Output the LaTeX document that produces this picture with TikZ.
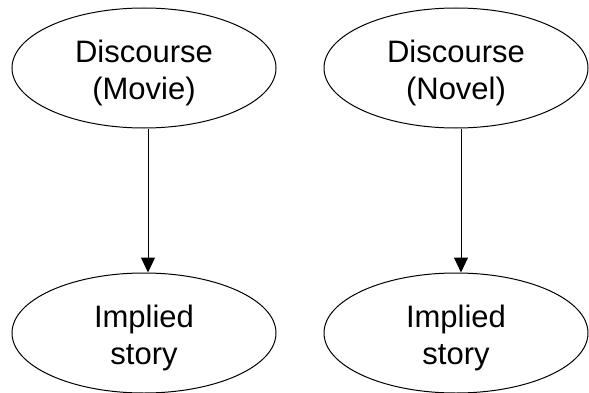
\documentclass[tikz,border=0pt]{standalone}
\usepackage{fontspec}
\setmainfont{Liberation Sans}
\usetikzlibrary{arrows.meta, positioning, shapes.geometric}
\newcommand{\toplift}{\rule{0pt}{33pt}}

\begin{document}
\begin{tikzpicture}[x=1pt, y=1pt, node distance=144pt, >={Triangle[length=15pt,width=14pt]},
    stage/.style={ellipse, draw, line width=1pt, inner sep=0pt, minimum width=264pt, minimum height=120pt, align=center, font=\fontsize{31}{37}\selectfont}]
\useasboundingbox (0,0) rectangle (589,392);

% Discourse nodes
\node[stage] (discMovie) at (144,324) {\toplift Discourse\\(Movie)};
\node[stage, right=47pt of discMovie] (discNovel) {\toplift Discourse\\(Novel)};

% Implied stories
\node[stage, below=of discMovie] (storyMovie) {\toplift Implied\\story};
\node[stage, below=of discNovel] (storyNovel) {\toplift Implied\\story};

% Arrows
\draw[->, line width=1pt] ([xshift=4pt]discMovie.south) -- ([xshift=4pt]storyMovie.north);
\draw[->, line width=1pt] ([xshift=5pt]discNovel.south) -- ([xshift=5pt]storyNovel.north);

\end{tikzpicture}
\end{document}
